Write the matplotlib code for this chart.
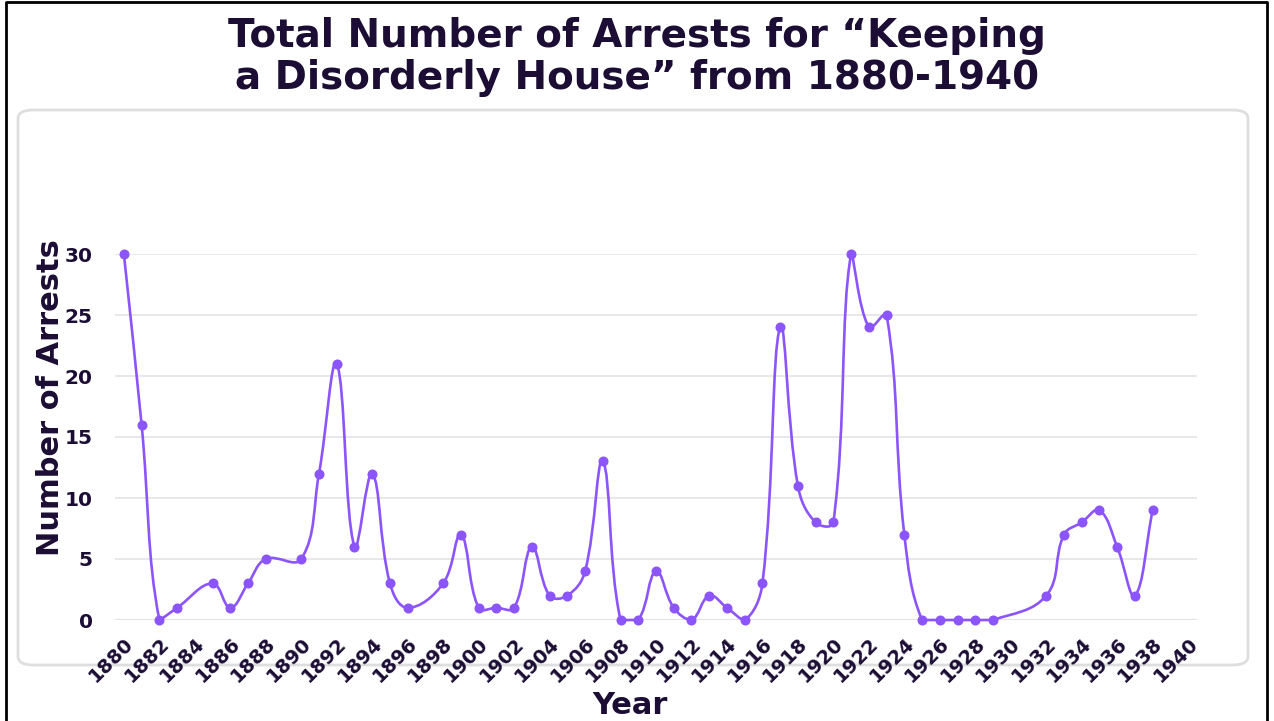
import numpy as np
import matplotlib as mpl
mpl.use('Agg')
import matplotlib.pyplot as plt
from matplotlib.path import Path
from matplotlib.patches import PathPatch, FancyBboxPatch
from matplotlib.lines import Line2D

years = [1880, 1881, 1882, 1883, 1885, 1886, 1887, 1888, 1890, 1891, 1892,
         1893, 1894, 1895, 1896, 1898, 1899, 1900, 1901, 1902, 1903, 1904,
         1905, 1906, 1907, 1908, 1909, 1910, 1911, 1912, 1913, 1914, 1915,
         1916, 1917, 1918, 1919, 1920, 1921, 1922, 1923, 1924, 1925, 1926,
         1927, 1928, 1929, 1932, 1933, 1934, 1935, 1936, 1937, 1938]
arrests = [30, 16, 0, 1, 3, 1, 3, 5, 5, 12, 21,
           6, 12, 3, 1, 3, 7, 1, 1, 1, 6, 2,
           2, 4, 13, 0, 0, 4, 1, 0, 2, 1, 0,
           3, 24, 11, 8, 8, 30, 24, 25, 7, 0, 0,
           0, 0, 0, 2, 7, 8, 9, 6, 2, 9]
year_ticks = list(range(1880, 1941, 2))
arrest_ticks = [0, 5, 10, 15, 20, 25, 30]

title = 'Total Number of Arrests for \u201cKeeping\na Disorderly House\u201d from 1880-1940'
ink = '#1b0d33'
purple = '#8b55fb'
font = 'DejaVu Sans'


def bezier_path(ax, xs, ys, tension=0.4):
    # same spline as chart.js: control points from neighbours, in pixel space,
    # then held inside the chart area
    pts = ax.transData.transform(np.column_stack([xs, ys]))
    bb = ax.bbox
    n = len(pts)
    verts = [pts[0]]
    codes = [Path.MOVETO]
    cps = []
    for i in range(n):
        prev = pts[i - 1] if i > 0 else pts[i]
        cur = pts[i]
        nxt = pts[i + 1] if i < n - 1 else pts[i]
        d01 = np.hypot(*(cur - prev))
        d12 = np.hypot(*(nxt - cur))
        tot = d01 + d12
        s01 = d01 / tot if tot else 0
        s12 = d12 / tot if tot else 0
        c_prev = cur - tension * s01 * (nxt - prev)
        c_next = cur + tension * s12 * (nxt - prev)
        for c in (c_prev, c_next):
            c[0] = min(max(c[0], bb.x0), bb.x1)
            c[1] = min(max(c[1], bb.y0), bb.y1)
        cps.append((c_prev, c_next))
    for i in range(1, n):
        verts += [cps[i - 1][1], cps[i][0], pts[i]]
        codes += [Path.CURVE4] * 3
    verts = ax.transData.inverted().transform(np.array(verts))
    return Path(verts, codes)


fig = plt.figure(figsize=(12.74, 7.21), dpi=100)

# black frame on top, left and right
fx0, fx1, fy1 = 6 / 1274, 1267 / 1274, 719.5 / 721
fig.lines.append(Line2D([fx0, fx0, fx1, fx1], [0, fy1, fy1, 0],
                        transform=fig.transFigure, color='black',
                        linewidth=2, zorder=-2))
# rounded card behind the chart
fig.patches.append(FancyBboxPatch((18 / 1274, 56 / 721), 1230 / 1274, 555 / 721,
                                  boxstyle='round,pad=0,rounding_size=0.012',
                                  transform=fig.transFigure, facecolor='white',
                                  edgecolor='#dedede', linewidth=2, zorder=-1))

ax = fig.add_axes([115 / 1274, 101 / 721, 1082 / 1274, 366 / 721])
ax.set_xlim(1879.5, 1940.5)
ax.set_ylim(0, 30)
ax.set_facecolor('none')

path = bezier_path(ax, years, arrests)
ax.add_patch(PathPatch(path, facecolor='none', edgecolor=purple,
                       linewidth=1.9, clip_on=False, zorder=3))
ax.plot(years, arrests, 'o', color=purple, markersize=6.2,
        clip_on=False, zorder=4)

ax.set_yticks(arrest_ticks)
ax.set_xticks(year_ticks)
ax.grid(True, axis='y', color='#e4e4e8', linewidth=1.2)
ax.tick_params(length=0)
for s in ax.spines.values():
    s.set_visible(False)
ax.axhline(0, color='#d9d9df', linewidth=1.5, zorder=1)

ax.set_yticklabels([str(v) for v in arrest_ticks], fontsize=14.5,
                   fontweight='bold', color=ink, family=font)
ax.set_xticklabels([str(v) for v in year_ticks], fontsize=14, rotation=45,
                   ha='right', rotation_mode='anchor', fontweight='bold',
                   color=ink, family=font)
ax.tick_params(axis='y', pad=16)
ax.tick_params(axis='x', pad=10)

fig.text(51 / 1274, 1 - 398 / 721, 'Number of Arrests', rotation=90,
         ha='center', va='center', fontsize=22, fontweight='bold',
         color=ink, family=font)
fig.text(630 / 1274, 1 - 705 / 721, 'Year', ha='center', va='center',
         fontsize=22, fontweight='bold', color=ink, family=font)
fig.text(637 / 1274, 1 - 57 / 721, title, ha='center', va='center',
         fontsize=28, fontweight='bold', color=ink, family=font,
         linespacing=1.15)

fig.savefig('out.png', dpi=100)
